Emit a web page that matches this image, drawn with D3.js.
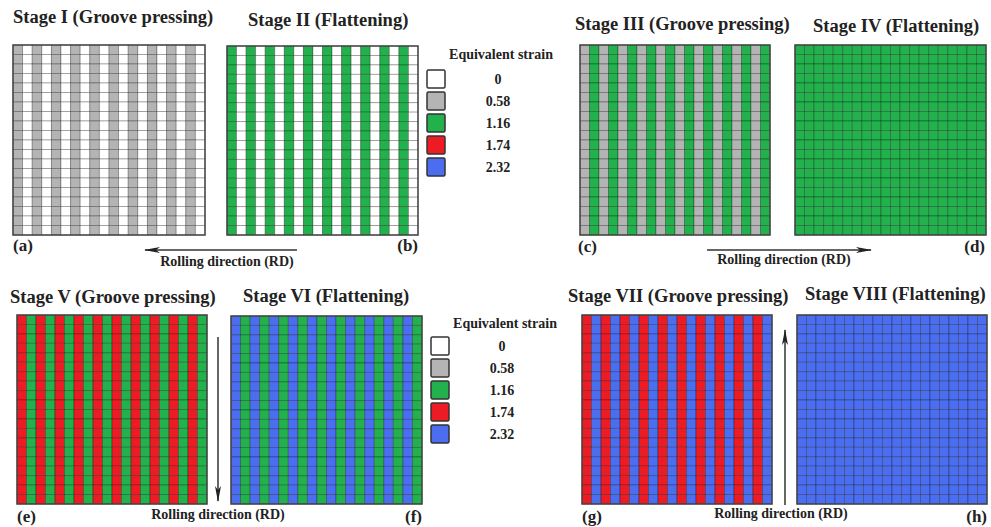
<!DOCTYPE html>
<html>
<head>
<meta charset="utf-8">
<script src="https://cdn.jsdelivr.net/npm/d3@7"></script>
<style>
  body { margin: 0; background: #fff; }
  svg text { font-family: "Liberation Serif", "Times New Roman", serif; font-weight: bold; fill: #222; }
</style>
</head>
<body>
<svg id="chart" width="991" height="527"></svg>
<script>
// strain levels and legend
var strainLevels = [0, 0.58, 1.16, 1.74, 2.32];
var strainLabels = ["0", "0.58", "1.16", "1.74", "2.32"];
var strainColors = ["#ffffff", "#b4b4b4", "#22b14c", "#ed1c24", "#4b6ef0"];

var stageTitles = [
  "Stage I (Groove pressing)", "Stage II (Flattening)",
  "Stage III (Groove pressing)", "Stage IV (Flattening)",
  "Stage V (Groove pressing)", "Stage VI (Flattening)",
  "Stage VII (Groove pressing)", "Stage VIII (Flattening)"
];
var panelLetters = ["(a)", "(b)", "(c)", "(d)", "(e)", "(f)", "(g)", "(h)"];

// strain in the 1st, 3rd, 5th... column and in the 2nd, 4th... column
var oddColStrain  = [0.58, 1.16, 0.58, 1.16, 1.74, 2.32, 1.74, 2.32];
var evenColStrain = [0,    0,    1.16, 1.16, 1.16, 1.16, 2.32, 2.32];

var nCols = 20, nRows = 20;

// layout (px)
var panels = [
  {x: 13,  y: 45,  w: 192, h: 190, tx: 13,  ty: 23,  lx: 13,  ly: 251, la: "start"},
  {x: 227, y: 46,  w: 191, h: 189, tx: 248, ty: 26,  lx: 418, ly: 251, la: "end"},
  {x: 580, y: 45,  w: 190, h: 190, tx: 575, ty: 30,  lx: 578, ly: 252, la: "start"},
  {x: 795, y: 45,  w: 191, h: 190, tx: 813, ty: 32,  lx: 985, ly: 252, la: "end"},
  {x: 17,  y: 315, w: 190, h: 189, tx: 10,  ty: 303, lx: 17,  ly: 522, la: "start"},
  {x: 231, y: 316, w: 191, h: 188, tx: 243, ty: 302, lx: 422, ly: 522, la: "end"},
  {x: 582, y: 315, w: 190, h: 189, tx: 568, ty: 302, lx: 582, ly: 522, la: "start"},
  {x: 797, y: 315, w: 190, h: 189, tx: 805, ty: 300, lx: 987, ly: 522, la: "end"}
];

var svg = d3.select("#chart");

var color = d3.scaleOrdinal().domain(strainLevels).range(strainColors);

var defs = svg.append("defs");
defs.append("marker")
    .attr("id", "head")
    .attr("viewBox", "0 0 16 8")
    .attr("refX", 15).attr("refY", 4)
    .attr("markerWidth", 16).attr("markerHeight", 8)
    .attr("markerUnits", "userSpaceOnUse")
    .attr("orient", "auto")
  .append("path")
    .attr("d", "M0,1 L16,4 L0,7 L4,4 Z")
    .attr("fill", "#222");

panels.forEach(function(p, i) {
  var x = d3.scaleBand().domain(d3.range(nCols)).range([0, p.w]);
  var y = d3.scaleBand().domain(d3.range(nRows)).range([0, p.h]);

  var cells = [];
  d3.range(nRows).forEach(function(r) {
    d3.range(nCols).forEach(function(c) {
      cells.push({r: r, c: c, strain: c % 2 === 0 ? oddColStrain[i] : evenColStrain[i]});
    });
  });

  var g = svg.append("g").attr("transform", "translate(" + p.x + "," + p.y + ")");

  g.selectAll("rect.cell")
    .data(cells)
    .enter().append("rect")
      .attr("class", "cell")
      .attr("x", function(d) { return x(d.c); })
      .attr("y", function(d) { return y(d.r); })
      .attr("width", x.bandwidth())
      .attr("height", y.bandwidth())
      .attr("fill", function(d) { return color(d.strain); })
      .attr("stroke", "#000")
      .attr("stroke-opacity", 0.3)
      .attr("stroke-width", 0.9);

  g.append("rect")
    .attr("width", p.w).attr("height", p.h)
    .attr("fill", "none")
    .attr("stroke", "#444")
    .attr("stroke-width", 1.5);

  svg.append("text")
    .attr("x", p.tx).attr("y", p.ty)
    .style("font-size", "18.5px")
    .text(stageTitles[i]);

  svg.append("text")
    .attr("x", p.lx).attr("y", p.ly)
    .attr("text-anchor", p.la)
    .style("font-size", "17px")
    .text(panelLetters[i]);
});

// legends
[{x: 427, y: 70, tx: 501, ty: 59, lx: 498}, {x: 431, y: 337, tx: 505, ty: 328, lx: 502}].forEach(function(L) {
  var ly = d3.scaleBand().domain(strainLevels).range([L.y, L.y + 5 * 22]);
  var lg = svg.append("g");
  lg.append("text")
    .attr("x", L.tx).attr("y", L.ty)
    .attr("text-anchor", "middle")
    .style("font-size", "14px")
    .text("Equivalent strain");
  lg.selectAll("rect")
    .data(strainLevels)
    .enter().append("rect")
      .attr("x", L.x)
      .attr("y", function(d) { return ly(d); })
      .attr("width", 18).attr("height", 18)
      .attr("rx", 1.5)
      .attr("fill", function(d) { return color(d); })
      .attr("stroke", "#333")
      .attr("stroke-width", 1.5);
  lg.selectAll("text.lab")
    .data(strainLevels)
    .enter().append("text")
      .attr("class", "lab")
      .attr("x", L.lx)
      .attr("y", function(d) { return ly(d) + 9; })
      .attr("dy", "0.35em")
      .attr("text-anchor", "middle")
      .style("font-size", "14px")
      .text(function(d, j) { return strainLabels[j]; });
});

// rolling direction arrows
var arrows = [
  {x1: 297, y1: 250, x2: 145, y2: 250, tx: 227, ty: 266},
  {x1: 707, y1: 250, x2: 871, y2: 250, tx: 784, ty: 264},
  {x1: 218, y1: 337, x2: 218, y2: 501, tx: 218, ty: 519},
  {x1: 785, y1: 505, x2: 785, y2: 330, tx: 781, ty: 518}
];
arrows.forEach(function(a) {
  svg.append("line")
    .attr("x1", a.x1).attr("y1", a.y1)
    .attr("x2", a.x2).attr("y2", a.y2)
    .attr("stroke", "#333")
    .attr("stroke-width", 1.5)
    .attr("marker-end", "url(#head)");
  svg.append("text")
    .attr("x", a.tx).attr("y", a.ty)
    .attr("text-anchor", "middle")
    .style("font-size", "14px")
    .text("Rolling direction (RD)");
});
</script>
</body>
</html>
